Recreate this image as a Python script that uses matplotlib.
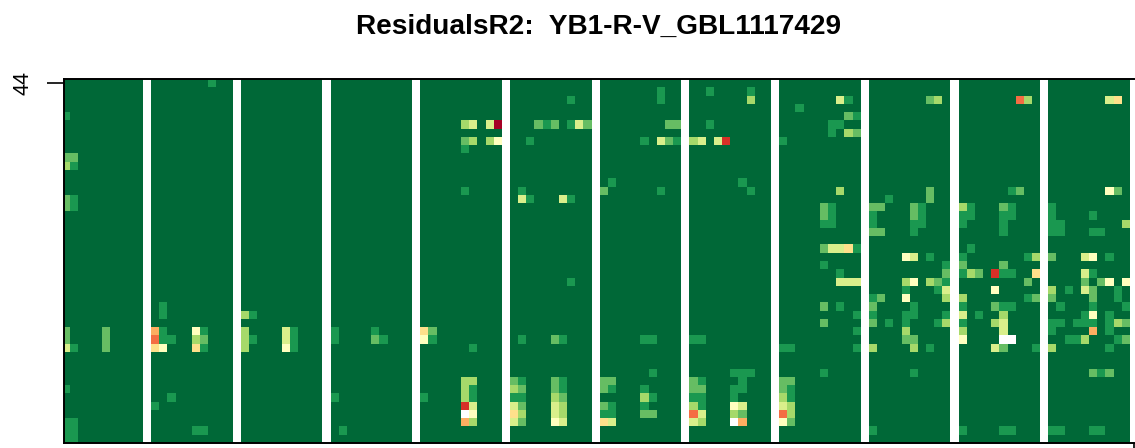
import numpy as np
import matplotlib
matplotlib.use('Agg')
import matplotlib.pyplot as plt
from matplotlib.colors import ListedColormap

title = 'ResidualsR2:  YB1-R-V_GBL1117429'
n_rows = 44
n_blocks = 12
block_cols = 10
y_tick_label = '44'

# RdYlGn, dark green = low
palette = ['#006837', '#1A9850', '#66BD63', '#A6D96A', '#D9EF8B', '#FFFFBF',
           '#FEE08B', '#FDAE61', '#F46D43', '#D73027', '#A50026']

# (row from top, column in block, colour level); level None is a white cell
block_0 = [(4,0,1), (9,0,2), (9,1,2), (10,0,3), (10,1,1), (14,0,2), (14,1,1), (15,0,2), (15,1,1),
           (30,0,2), (31,0,2), (32,0,4), (32,1,1), (30,5,2), (31,5,2), (32,5,2), (37,0,1),
           (41,0,1), (41,1,1), (42,0,1), (42,1,1), (43,0,1), (43,1,1)]
block_1 = [(0,7,1), (27,1,1), (28,1,1), (30,0,7), (30,1,1), (30,5,5), (30,6,1), (31,0,8), (31,1,1),
           (31,2,1), (31,5,3), (31,6,2), (32,0,6), (32,1,5), (32,5,6), (32,6,1), (38,2,1), (39,0,1),
           (42,5,1), (42,6,1)]
block_2 = [(28,0,3), (28,1,1), (30,0,3), (31,0,3), (32,0,3), (31,1,1), (30,5,4), (31,5,4), (32,5,5),
           (30,6,1), (31,6,1), (32,6,1)]
block_3 = [(30,0,1), (31,0,1), (30,5,1), (31,5,2), (31,6,1), (38,0,1), (42,1,1)]
block_4 = [(5,5,3), (5,6,4), (5,8,4), (5,9,10), (7,5,2), (7,6,3), (7,8,3), (7,9,5), (8,5,1), (13,5,1),
           (30,0,6), (30,1,2), (31,0,5), (31,1,1), (32,6,1), (36,5,3), (36,6,3), (37,5,3), (37,6,1),
           (38,0,1), (38,5,3), (38,6,1), (39,5,9), (39,6,4), (40,5,None), (40,6,5), (41,5,7), (41,6,3)]
block_5 = [(2,7,1), (5,3,2), (5,4,1), (5,5,2), (5,7,1), (5,8,4), (5,9,2), (7,2,1), (13,1,1), (14,1,4),
           (14,2,1), (14,6,4), (14,7,1), (24,7,1), (31,1,1), (31,5,2), (31,6,1), (36,0,2), (36,1,1),
           (36,5,2), (36,6,1), (37,0,3), (37,1,2), (37,5,2), (37,6,1), (38,0,1), (38,1,1), (38,5,3),
           (38,6,2), (39,0,4), (39,1,2), (39,5,4), (39,6,3), (40,0,6), (40,1,3), (40,5,4), (40,6,3),
           (41,0,4), (41,1,2), (41,5,5), (41,6,4)]
block_6 = [(1,7,1), (2,7,1), (5,8,2), (5,9,2), (7,5,1), (7,7,4), (7,8,2), (7,9,1), (12,1,1), (13,0,2),
           (13,7,1), (31,5,1), (31,6,1), (35,6,1), (36,0,2), (36,1,2), (37,0,2), (37,1,1), (37,5,1),
           (38,5,3), (38,6,1), (39,0,2), (39,1,1), (39,5,1), (40,0,1), (40,1,1), (40,5,2), (40,6,2),
           (41,0,6), (41,1,4)]
block_7 = [(1,2,1), (1,7,1), (2,7,3), (5,2,1), (7,0,3), (7,1,4), (7,3,4), (7,4,9), (12,6,1), (13,7,1),
           (31,0,1), (31,1,1), (35,5,1), (35,6,1), (35,7,1), (36,0,2), (36,1,1), (36,6,1), (37,0,2),
           (37,1,2), (37,5,1), (37,6,1), (38,0,1), (38,1,1), (38,5,1), (39,0,3), (39,1,1), (39,5,5),
           (39,6,4), (40,0,8), (40,1,4), (40,5,3), (40,6,2), (41,0,4), (41,1,3), (41,5,None), (41,6,7)]
block_8 = [(2,7,4), (2,8,1), (3,2,1), (4,8,2), (4,9,1), (5,6,1), (5,7,1), (6,6,1), (6,8,3), (6,9,2),
           (7,0,1), (13,7,3), (15,5,2), (15,6,1), (16,5,2), (16,6,1), (17,5,1), (17,6,1), (20,5,2),
           (20,6,4), (20,7,4), (20,8,6), (20,9,1), (22,5,1), (23,7,1), (24,7,4), (24,8,4), (24,9,4),
           (27,5,2), (27,7,1), (28,9,1), (29,5,2), (30,9,1), (32,0,1), (32,1,1), (32,9,1), (35,5,1),
           (36,0,2), (36,1,2), (37,0,2), (37,1,1), (38,0,3), (38,1,1), (39,0,4), (39,1,3), (40,0,8),
           (40,1,3), (41,0,5), (41,1,2)]
block_9 = [(2,7,2), (2,8,3), (13,7,2), (14,7,2), (14,2,1), (15,0,2), (15,1,2), (15,5,2), (15,6,1),
           (16,0,1), (16,5,2), (16,6,1), (17,0,1), (17,5,1), (17,6,1), (18,0,2), (18,1,2), (18,5,1),
           (21,4,5), (21,5,4), (21,7,1), (22,9,1), (23,9,2), (24,4,3), (24,5,5), (24,7,3), (24,8,2),
           (24,9,1), (25,4,1), (25,8,1), (25,9,4), (26,0,1), (26,1,2), (26,4,5), (26,9,3), (27,0,2),
           (27,5,1), (28,0,1), (28,4,1), (28,5,1), (28,9,1), (29,0,2), (29,2,1), (29,4,1), (29,8,1),
           (29,9,3), (30,4,3), (31,4,2), (31,5,2), (32,0,3), (32,5,3), (32,7,1), (35,5,1), (42,0,1)]
block_10 = [(2,7,8), (2,8,3), (13,6,1), (13,7,2), (15,0,3), (15,1,1), (15,5,2), (15,6,1), (16,0,1),
            (16,1,1), (16,5,1), (16,6,1), (17,0,1), (17,5,1), (18,5,1), (20,1,1), (21,0,1), (21,8,1),
            (21,9,3), (22,0,2), (22,5,2), (23,0,1), (23,1,3), (23,2,2), (23,4,9), (23,5,1), (23,6,1),
            (23,9,6), (24,8,2), (25,4,5), (26,0,3), (26,8,1), (26,9,2), (27,0,1), (27,4,2), (27,5,1),
            (27,6,1), (28,0,4), (28,2,1), (28,5,3), (29,0,1), (29,4,3), (29,5,4), (30,0,3), (30,5,4),
            (31,0,5), (31,5,None), (31,6,None), (32,4,4), (32,5,2), (32,9,1), (42,0,1), (42,5,1), (42,6,1)]
block_11 = [(2,7,4), (2,8,6), (13,7,5), (13,8,2), (15,0,1), (16,0,1), (16,5,1), (17,0,1), (17,1,1),
            (17,9,3), (18,0,1), (18,1,1), (18,5,1), (18,6,1), (21,0,2), (21,4,4), (21,5,5), (21,7,1),
            (23,4,4), (23,5,1), (24,4,2), (24,6,2), (24,7,5), (24,9,5), (25,0,3), (25,2,1), (25,4,4),
            (25,5,2), (25,8,1), (26,0,2), (26,5,2), (26,8,1), (27,1,1), (27,5,1), (27,9,1), (28,4,1),
            (28,5,5), (28,7,1), (29,0,1), (29,1,1), (29,3,1), (29,4,1), (29,5,1), (29,7,1), (29,8,3),
            (29,9,2), (30,0,1), (30,5,7), (30,7,1), (31,2,1), (31,3,1), (31,4,3), (31,8,1), (31,9,2),
            (32,0,3), (32,7,1), (35,5,2), (35,6,1), (35,7,2), (42,0,1), (42,1,1), (42,5,1), (42,6,1)]

blocks = [block_0, block_1, block_2, block_3, block_4, block_5,
          block_6, block_7, block_8, block_9, block_10, block_11]

# every block is followed by one empty column
n_cols = n_blocks * (block_cols + 1)
grid = np.zeros((n_rows, n_cols))
grid[:, block_cols::block_cols + 1] = np.nan
for b, block in enumerate(blocks):
    for row, col, level in block:
        grid[row, b * (block_cols + 1) + col] = np.nan if level is None else level

cmap = ListedColormap(palette)
cmap.set_bad('white')

plt.rcParams['font.family'] = ['Liberation Sans', 'DejaVu Sans']

fig = plt.figure(figsize=(11.35, 4.48), dpi=100)
ax = fig.add_axes([64 / 1135, 1 - 443 / 448, 1070 / 1135, 364 / 448])
ax.imshow(grid, cmap=cmap, vmin=-0.5, vmax=10.5, aspect='auto', interpolation='nearest')
ax.set_xlim(-0.18, n_cols - 1)
ax.set_ylim(n_rows - 0.5, -0.5)

ax.set_yticks([0])
ax.set_yticklabels([y_tick_label], rotation=90, va='center', fontsize=15.5)
ax.set_xticks([n_cols - 1])
ax.set_xticklabels([''])
ax.tick_params(axis='y', length=12, width=1.2, pad=10)
ax.tick_params(axis='x', length=4, width=1.2)
for spine in ax.spines.values():
    spine.set_linewidth(1.4)
ax.spines['right'].set_visible(False)

fig.text(598 / 1135, 1 - 27 / 448, title, ha='center', va='center', fontsize=20.2, fontweight='bold')

fig.savefig('out.png', dpi=100)
